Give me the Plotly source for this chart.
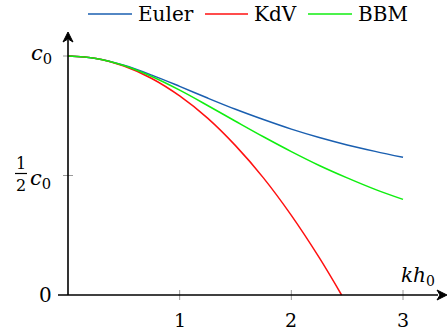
import plotly.graph_objects as go

# ---- data ----
kh = [0, 0.25, 0.5, 0.75, 1.0, 1.25, 1.5, 1.75, 2.0, 2.25, 2.5, 2.75, 3.0]
euler = [1.0, 0.990, 0.961, 0.920, 0.873, 0.824, 0.777, 0.734, 0.694, 0.659, 0.628, 0.601, 0.576]
bbm = [1.0, 0.990, 0.960, 0.914, 0.857, 0.793, 0.727, 0.662, 0.600, 0.542, 0.490, 0.442, 0.400]
kh_kdv = [0, 0.25, 0.5, 0.75, 1.0, 1.25, 1.5, 1.75, 2.0, 2.25, 2.45]
kdv = [1.0, 0.990, 0.958, 0.906, 0.833, 0.740, 0.625, 0.490, 0.333, 0.156, 0.0]

series_names = ["Euler", "KdV", "BBM"]
series_colors = ["#1a5fb0", "#ff1010", "#10ee10"]
x_ticks = [1, 2, 3]
x_tick_labels = ["1", "2", "3"]

FONT = "DejaVu Serif"
W, H = 448, 333
ML, MT = 58, 30
PW, PH = W - ML, H - MT
PX_PER_X = 111.67
PX_PER_Y = 239.0
X0PX, Y0PX = 68, 295  # pixel of data origin


def xpaper(px):
    return (px - ML) / PW


def ypaper(py):
    return (H - py) / PH


xr = [(ML - X0PX) / PX_PER_X, (W - X0PX) / PX_PER_X]
yr = [(Y0PX - H) / PX_PER_Y, (Y0PX - MT) / PX_PER_Y]

fig = go.Figure()
fig.add_trace(go.Scatter(x=kh, y=euler, name=series_names[0], mode="lines",
                         line=dict(color=series_colors[0], width=1.5, shape="spline")))
fig.add_trace(go.Scatter(x=kh_kdv, y=kdv, name=series_names[1], mode="lines",
                         line=dict(color=series_colors[1], width=1.5, shape="spline")))
fig.add_trace(go.Scatter(x=kh, y=bbm, name=series_names[2], mode="lines",
                         line=dict(color=series_colors[2], width=1.5, shape="spline")))

shapes = []
annos = []
tick_col = "#9a9a9a"
dx = 5 / PX_PER_X
dy = 5 / PX_PER_Y
for t, lab in zip(x_ticks, x_tick_labels):
    shapes.append(dict(type="line", xref="x", yref="y", x0=t, x1=t, y0=-dy, y1=dy,
                       line=dict(color=tick_col, width=1), layer="below"))
    annos.append(dict(x=t, y=(Y0PX - 320) / PX_PER_Y, xref="x", yref="y", text=lab,
                      xanchor="center", yanchor="middle",
                      showarrow=False, font=dict(family=FONT, size=19, color="black")))
for t in [1.0, 0.5]:
    shapes.append(dict(type="line", xref="x", yref="y", x0=-dx, x1=dx, y0=t, y1=t,
                       line=dict(color=tick_col, width=1), layer="below"))

# axes lines
x_end = (438 - X0PX) / PX_PER_X
y_end = (Y0PX - 40) / PX_PER_Y
shapes.append(dict(type="line", xref="x", yref="y", x0=xr[0], x1=x_end, y0=0, y1=0,
                   line=dict(color="black", width=1.6)))
shapes.append(dict(type="line", xref="x", yref="y", x0=0, x1=0, y0=0, y1=y_end,
                   line=dict(color="black", width=1.6)))
# arrow heads (pixel-sized)
shapes.append(dict(type="path", xref="x", yref="y", xsizemode="pixel", ysizemode="pixel",
                   xanchor=(447 - X0PX) / PX_PER_X, yanchor=0,
                   path="M0,0 L-10,5 L-7,0 L-10,-5 Z", fillcolor="black",
                   line=dict(color="black", width=1)))
shapes.append(dict(type="path", xref="x", yref="y", xsizemode="pixel", ysizemode="pixel",
                   xanchor=0, yanchor=(Y0PX - 32) / PX_PER_Y,
                   path="M0,0 L5,-10 L0,-7 L-5,-10 Z", fillcolor="black",
                   line=dict(color="black", width=1)))

lab_font = dict(family=FONT, size=20, color="black")
c_font = dict(family=FONT, size=21, color="black")
annos.append(dict(x=xpaper(54), y=0, xref="paper", yref="y", text="0", xanchor="right",
                  yanchor="middle", showarrow=False, font=lab_font))
annos.append(dict(x=xpaper(54), y=1.0, xref="paper", yref="y", yshift=2, xanchor="right",
                  yanchor="middle", text="<i>c</i><sub>0</sub>", showarrow=False, font=c_font))
# 1/2 c0
frac_font = dict(family=FONT, size=16, color="black")
annos.append(dict(x=xpaper(21), y=ypaper(163), xref="paper", yref="paper", text="1",
                  xanchor="center", yanchor="middle", showarrow=False, font=frac_font))
annos.append(dict(x=xpaper(21), y=ypaper(185), xref="paper", yref="paper", text="2",
                  xanchor="center", yanchor="middle", showarrow=False, font=frac_font))
shapes.append(dict(type="line", xref="paper", yref="paper", x0=xpaper(15), x1=xpaper(27),
                   y0=ypaper(173.5), y1=ypaper(173.5), line=dict(color="black", width=1.2)))
annos.append(dict(x=xpaper(53), y=0.5, xref="paper", yref="y", yshift=-3, xanchor="right",
                  yanchor="middle", text="<i>c</i><sub>0</sub>", showarrow=False, font=c_font))
annos.append(dict(x=(418 - X0PX) / PX_PER_X, y=(Y0PX - 276) / PX_PER_Y, xref="x", yref="y",
                  xanchor="center", yanchor="middle",
                  text="<i>kh</i><sub>0</sub>", showarrow=False, font=lab_font))

# manual legend
leg = [(88, 132, 136), (205, 248, 252), (308, 352, 356)]
for (l0, l1, tx), name, col in zip(leg, series_names, series_colors):
    shapes.append(dict(type="line", xref="paper", yref="paper", x0=xpaper(l0), x1=xpaper(l1),
                       y0=ypaper(14), y1=ypaper(14), line=dict(color=col, width=1.5)))
    annos.append(dict(x=xpaper(tx), y=ypaper(14), xref="paper", yref="paper", text=name,
                      xanchor="left", yanchor="middle", showarrow=False, font=lab_font))

fig.update_layout(
    width=W, height=H,
    margin=dict(l=ML, r=0, t=MT, b=0),
    paper_bgcolor="white", plot_bgcolor="white",
    showlegend=False,
    xaxis=dict(range=xr, visible=False),
    yaxis=dict(range=yr, visible=False),
    shapes=shapes, annotations=annos,
)
fig.write_html("out.html", config={"displayModeBar": False},
               post_script="document.body.style.margin='0';")
